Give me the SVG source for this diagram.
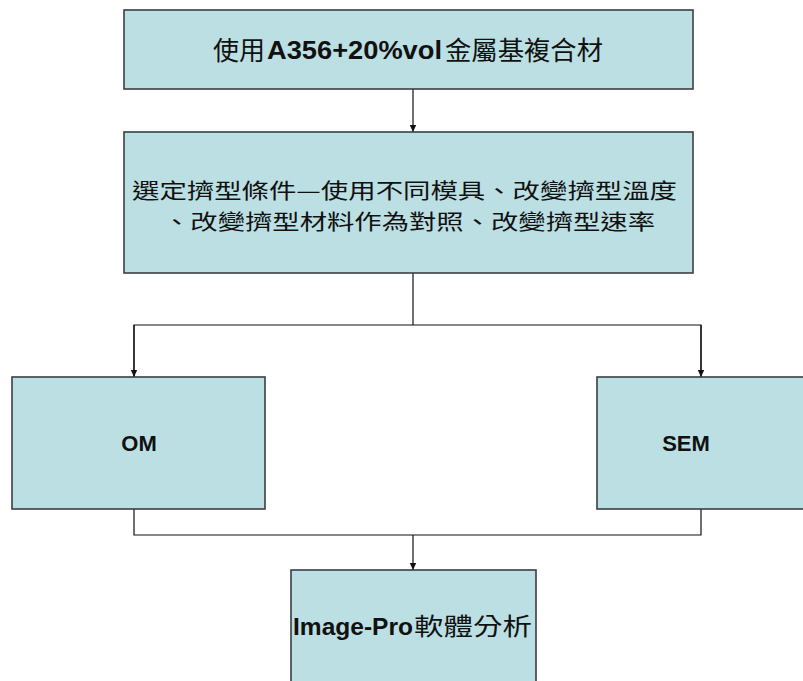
<svg xmlns="http://www.w3.org/2000/svg" width="803" height="681" viewBox="0 0 803 681">
  <style>
    .box { fill: #BBDFE3; stroke: #3a3f42; stroke-width: 1.6; }
    .wire { fill: none; stroke: #111; stroke-width: 1.2; }
    .cjk { font-family: "Noto Sans CJK TC", "Noto Sans CJK SC", sans-serif; font-weight: 400; fill: #111; }
    .lat { font-family: "Liberation Sans", Arial, sans-serif; font-weight: 700; fill: #111; }
  </style>
  <defs>
    <marker id="arrow" markerWidth="8" markerHeight="8" refX="7" refY="4" orient="auto" markerUnits="userSpaceOnUse">
      <path d="M0,0.8 L7,4 L0,7.2 Z" fill="#111"/>
    </marker>
  </defs>
  <rect width="803" height="681" fill="#ffffff"/>

  <!-- connectors -->
  <g id="connectors">
    <line class="wire" x1="413" y1="89" x2="413" y2="132" marker-end="url(#arrow)"/>
    <polyline class="wire" points="413,273 413,325"/>
    <polyline class="wire" points="134,377 134,325 701,325 701,377"/>
    <line class="wire" x1="134" y1="325" x2="134" y2="377" marker-end="url(#arrow)"/>
    <line class="wire" x1="701" y1="325" x2="701" y2="377" marker-end="url(#arrow)"/>
    <polyline class="wire" points="134,509 134,535 701,535 701,509"/>
    <line class="wire" x1="413" y1="535" x2="413" y2="570" marker-end="url(#arrow)"/>
  </g>

  <!-- material -->
  <g id="node-material">
    <rect class="box" x="124" y="10" width="569" height="79"/>
    <text y="60" font-size="26">
      <tspan class="cjk" x="213" textLength="52" lengthAdjust="spacingAndGlyphs">使用</tspan>
      <tspan class="lat" x="267" textLength="175" lengthAdjust="spacingAndGlyphs" dy="-1">A356+20%vol</tspan>
      <tspan class="cjk" x="445" textLength="158" lengthAdjust="spacingAndGlyphs" dy="1">金屬基複合材</tspan>
    </text>
  </g>

  <!-- extrusion conditions, two lines in one text block -->
  <g id="node-conditions">
    <rect class="box" x="124" y="132" width="569" height="141"/>
    <text class="cjk" font-size="21">
      <tspan x="132" y="198" textLength="545" lengthAdjust="spacingAndGlyphs">選定擠型條件—使用不同模具、改變擠型溫度</tspan>
      <tspan x="163" y="228.5" textLength="492" lengthAdjust="spacingAndGlyphs">、改變擠型材料作為對照、改變擠型速率</tspan>
    </text>
  </g>

  <!-- OM -->
  <g id="node-om">
    <rect class="box" x="12" y="377" width="253" height="132"/>
    <text class="lat" x="139" y="451" font-size="22" text-anchor="middle">OM</text>
  </g>

  <!-- SEM -->
  <g id="node-sem">
    <rect class="box" x="597" y="377" width="212" height="132"/>
    <text class="lat" x="686" y="451" font-size="22" text-anchor="middle">SEM</text>
  </g>

  <!-- Image-Pro analysis -->
  <g id="node-imagepro">
    <rect class="box" x="291" y="570" width="245" height="120"/>
    <text y="635" font-size="24">
      <tspan class="lat" x="293" textLength="120" lengthAdjust="spacingAndGlyphs" font-size="23">Image-Pro</tspan>
      <tspan class="cjk" x="414" textLength="118" lengthAdjust="spacingAndGlyphs">軟體分析</tspan>
    </text>
  </g>
</svg>
